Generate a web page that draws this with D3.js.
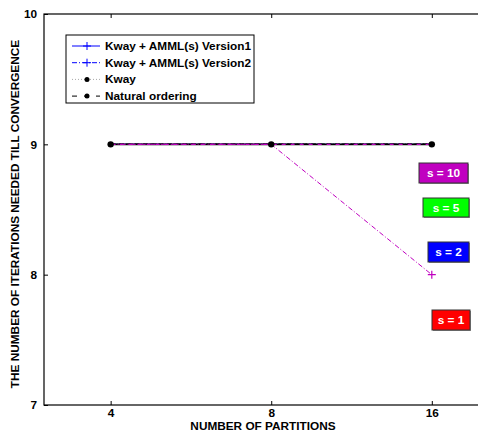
<!DOCTYPE html>
<html><head><meta charset="utf-8">
<script src="https://cdn.jsdelivr.net/npm/d3@7"></script>
<style>
html,body{margin:0;padding:0;background:#fff;}
text{font-family:"Liberation Sans",Arial,sans-serif;font-weight:bold;}
</style></head>
<body>
<svg id="chart" width="478" height="432"></svg>
<script>
const partitions = [4, 8, 16];
const yTicks = [7, 8, 9, 10];
const xTickLabels = ["4", "8", "16"];
const v1Values = [9, 9, 9];
const v2Values = [9, 9, 9];
const kwayValues = [9, 9, 9];
const naturalValues = [9, 9, 9];
const s10V1Values = [9, 9, 9];
const s10V2Values = [9, 9, 8];
const legendLabels = ["Kway + AMML(s) Version1", "Kway + AMML(s) Version2", "Kway", "Natural ordering"];
const sLabels = ["s = 10", "s = 5", "s = 2", "s = 1"];
const sColors = ["#c000c0", "#00ff00", "#0000ff", "#ff0000"];
const xLabel = "NUMBER OF PARTITIONS";
const yLabel = "THE NUMBER OF ITERATIONS NEEDED TILL CONVERGENCE";

const FS = 11.8;
const svg = d3.select("#chart");
const L = 44, T = 14, B = 405;
const x = d3.scaleLog().base(2).domain([3, 20]).range([L, 483.5]);
const y = d3.scaleLinear().domain([7, 10]).range([B, T]);

// axes box
svg.append("rect").attr("x", L).attr("y", T).attr("width", x(20) - L).attr("height", B - T)
  .attr("fill", "none").attr("stroke", "#000").attr("stroke-width", 1.2);

const xAxis = d3.axisBottom(x).tickValues(partitions).tickFormat((d, i) => xTickLabels[i]).tickSizeInner(-4).tickSizeOuter(0);
const gx = svg.append("g").attr("transform", `translate(0,${B})`).call(xAxis);
gx.select(".domain").remove();
gx.selectAll("text").attr("font-size", FS).attr("fill", "#000").attr("y", 12).attr("dy", 0);
const gxt = svg.append("g").attr("transform", `translate(0,${T})`).call(d3.axisTop(x).tickValues(partitions).tickFormat("").tickSizeInner(-4).tickSizeOuter(0));
gxt.select(".domain").remove();

const yAxis = d3.axisLeft(y).tickValues(yTicks).tickFormat(d3.format("d")).tickSizeInner(-4).tickSizeOuter(0).tickPadding(7);
const gy = svg.append("g").attr("transform", `translate(${L},0)`).call(yAxis);
gy.select(".domain").remove();
gy.selectAll("text").attr("font-size", FS).attr("fill", "#000");

svg.append("text").attr("x", 263).attr("y", 430).attr("text-anchor", "middle").attr("font-size", FS).text(xLabel);
svg.append("text").attr("transform", "translate(19,214) rotate(-90)").attr("text-anchor", "middle").attr("font-size", FS).text(yLabel);

const line = d3.line().x((d, i) => x(partitions[i])).y(d => y(d));
function drawSeries(vals, color, dash, width) {
  svg.append("path").datum(vals).attr("d", line).attr("fill", "none").attr("stroke", color)
    .attr("stroke-width", width || 1).attr("stroke-dasharray", dash);
}
drawSeries(v1Values, "#0000ff", null, 1);
drawSeries(v2Values, "#0000ff", "6,2,1,2", 1);
drawSeries(kwayValues, "#000", "1,2", 1.5);
drawSeries(naturalValues, "#000", "5,3", 1.5);
drawSeries(s10V1Values, "#000", null, 1.6);
drawSeries(s10V1Values, "#c000c0", "4,5", 1.2);
drawSeries(s10V2Values, "#c000c0", "5,2,1,2", 1);

// star markers
svg.selectAll(".dot").data(kwayValues).enter().append("circle")
  .attr("cx", (d, i) => x(partitions[i])).attr("cy", d => y(d)).attr("r", 3.2).attr("fill", "#000");
function plus(cx, cy, color, s) {
  svg.append("path").attr("d", `M${cx - s},${cy}H${cx + s}M${cx},${cy - s}V${cy + s}`).attr("stroke", color).attr("stroke-width", 1.2);
}
plus(x(partitions[2]), y(s10V2Values[2]), "#c000c0", 4);

// legend
const lg = svg.append("g");
lg.append("rect").attr("x", 66).attr("y", 35).attr("width", 188).attr("height", 68).attr("fill", "#fff").attr("stroke", "#000").attr("stroke-width", 1);
const legStyles = [
  {c: "#0000ff", dash: null, m: "plus"},
  {c: "#0000ff", dash: "5,2,1,2", m: "plus"},
  {c: "#000", dash: "1,2", m: "dot", op: 0.35},
  {c: "#000", dash: "5,7", m: "dot"}
];
legendLabels.forEach((lab, i) => {
  const yy = 46 + i * 16.7;
  const s = legStyles[i];
  lg.append("line").attr("x1", 72).attr("x2", 100).attr("y1", yy).attr("y2", yy).attr("stroke", s.c)
    .attr("stroke-dasharray", s.dash).attr("stroke-opacity", s.op || 1).attr("stroke-width", 1);
  if (s.m === "plus") {
    lg.append("path").attr("d", `M83,${yy}H91M87,${yy - 4}V${yy + 4}`).attr("stroke", s.c).attr("stroke-width", 1);
  } else {
    lg.append("circle").attr("cx", 87).attr("cy", yy).attr("r", 2.5).attr("fill", "#000");
  }
  lg.append("text").attr("x", 105).attr("y", yy + 4).attr("font-size", FS).text(lab);
});

// s labels
const sBoxes = [
  {x: 419, y: 163, w: 49, h: 20},
  {x: 423, y: 198, w: 46, h: 19},
  {x: 428, y: 242, w: 41, h: 20},
  {x: 432, y: 310, w: 38, h: 20}
];
sLabels.forEach((lab, i) => {
  const b = sBoxes[i];
  svg.append("rect").attr("x", b.x + 1).attr("y", b.y + 1).attr("width", b.w).attr("height", b.h).attr("fill", "#999");
  svg.append("rect").attr("x", b.x).attr("y", b.y).attr("width", b.w).attr("height", b.h)
    .attr("fill", sColors[i]).attr("stroke", "#333").attr("stroke-width", 1);
  svg.append("text").attr("x", b.x + b.w / 2).attr("y", b.y + b.h / 2 + 4).attr("text-anchor", "middle")
    .attr("font-size", FS).attr("fill", "#fff").text(lab);
});
</script>
</body></html>
